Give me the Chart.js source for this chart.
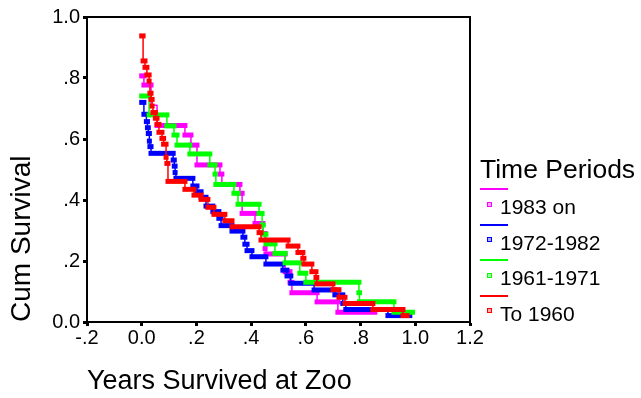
<!DOCTYPE html>
<html><head><meta charset="utf-8">
<script src="https://cdn.jsdelivr.net/npm/chart.js@4.4.0/dist/chart.umd.min.js"></script>
<style>
html,body{margin:0;padding:0;background:#fff;}
#wrap{position:relative;width:641px;height:398px;font-family:"Liberation Sans",Arial,sans-serif;color:#000;overflow:hidden;}
canvas{position:absolute;left:0;top:0;}
.lg{position:absolute;white-space:nowrap;}
</style></head><body>
<div id="wrap"><canvas id="c" width="641" height="398"></canvas><div id="legend"></div></div>
<script>
// ---- data ----
const seriesNames  = ["1983 on", "1972-1982", "1961-1971", "To 1960"];
const seriesColors = ["#ff00ff", "#0000ff", "#00ff00", "#ff0000"];
const legendTitle  = "Time Periods";

// event times (years) and cumulative survival after each step
const magentaTimes = [0, 0.008, 0.034, 0.056, 0.158, 0.180, 0.202, 0.286, 0.293, 0.359, 0.367, 0.414, 0.443, 0.451, 0.454, 0.524, 0.542, 0.549, 0.641, 0.717];
const magentaSurv  = [0.807, 0.777, 0.711, 0.644, 0.613, 0.58, 0.515, 0.485, 0.451, 0.422, 0.356, 0.323, 0.29, 0.241, 0.223, 0.165, 0.13, 0.096, 0.066, 0.032];
const magentaEnd   = 0.852;
const magentaUncensored = [0.711];   // levels with no censored cases (plain line)

const blueTimes = [0, 0.008, 0.017, 0.021, 0.024, 0.028, 0.030, 0.034, 0.115, 0.119, 0.122, 0.125, 0.187, 0.202, 0.217, 0.235, 0.260, 0.282, 0.290, 0.330, 0.370, 0.377, 0.385, 0.403, 0.454, 0.516, 0.531, 0.545, 0.630, 0.706, 0.735, 0.746, 0.900];
const blueSurv  = [0.72, 0.681, 0.657, 0.637, 0.618, 0.593, 0.575, 0.553, 0.531, 0.511, 0.49, 0.471, 0.446, 0.427, 0.409, 0.38, 0.362, 0.34, 0.316, 0.298, 0.278, 0.255, 0.234, 0.214, 0.19, 0.17, 0.151, 0.127, 0.105, 0.089, 0.061, 0.041, 0.021];
const blueEnd   = 0.980;
const blueUncensored = [];

const greenTimes = [0, 0.027, 0.092, 0.118, 0.129, 0.176, 0.249, 0.268, 0.271, 0.337, 0.352, 0.429, 0.440, 0.444, 0.454, 0.487, 0.524, 0.578, 0.600, 0.794, 0.796, 0.922];
const greenSurv  = [0.741, 0.679, 0.643, 0.613, 0.58, 0.551, 0.515, 0.485, 0.451, 0.422, 0.386, 0.356, 0.318, 0.288, 0.256, 0.225, 0.194, 0.16, 0.13, 0.096, 0.066, 0.032];
const greenEnd   = 0.990;
const greenUncensored = [];

const redTimes = [0, 0.005, 0.012, 0.019, 0.027, 0.030, 0.034, 0.038, 0.041, 0.050, 0.056, 0.063, 0.074, 0.080, 0.089, 0.092, 0.096, 0.158, 0.191, 0.217, 0.242, 0.264, 0.304, 0.330, 0.429, 0.436, 0.535, 0.571, 0.589, 0.593, 0.622, 0.637, 0.640, 0.699, 0.721, 0.743, 0.845, 0.955];
const redSurv  = [0.938, 0.856, 0.835, 0.81, 0.79, 0.75, 0.73, 0.708, 0.687, 0.668, 0.648, 0.622, 0.602, 0.583, 0.54, 0.52, 0.461, 0.435, 0.416, 0.402, 0.376, 0.353, 0.332, 0.312, 0.293, 0.269, 0.249, 0.228, 0.209, 0.19, 0.165, 0.146, 0.125, 0.106, 0.081, 0.061, 0.041, 0.021];
const redEnd   = 0.970;
const redUncensored = [];

const xTickValues = [-0.2, 0, 0.2, 0.4, 0.6, 0.8, 1.0, 1.2];
const xTickLabels = ["-.2", "0.0", ".2", ".4", ".6", ".8", "1.0", "1.2"];
const yTickValues = [0, 0.2, 0.4, 0.6, 0.8, 1.0];
const yTickLabels = ["0.0", ".2", ".4", ".6", ".8", "1.0"];
const xTitle = "Years Survived at Zoo";
const yTitle = "Cum Survival";

// ---- build step curves ----
function kmPoints(times, surv, end) {
  const pts = [{x: times[0], y: surv[0]}];
  for (let i = 1; i < times.length; i++) {
    pts.push({x: times[i], y: surv[i - 1]});
    pts.push({x: times[i], y: surv[i]});
  }
  pts.push({x: end, y: surv[surv.length - 1]});
  return pts;
}
const curves = [
  kmPoints(magentaTimes, magentaSurv, magentaEnd),
  kmPoints(blueTimes, blueSurv, blueEnd),
  kmPoints(greenTimes, greenSurv, greenEnd),
  kmPoints(redTimes, redSurv, redEnd)
];
const plainLevels = [magentaUncensored, blueUncensored, greenUncensored, redUncensored];

const datasets = [3, 2, 1, 0].map(i => {
  const thick = ctx => ctx.p0.parsed.y === ctx.p1.parsed.y && !plainLevels[i].includes(ctx.p0.parsed.y);
  return {
    label: seriesNames[i],
    data: curves[i],
    showLine: true,
    borderColor: seriesColors[i],
    backgroundColor: seriesColors[i],
    borderWidth: 1.5,
    pointRadius: 0,
    segment: {
      borderWidth: ctx => thick(ctx) ? 5 : 1.5,
      borderCapStyle: ctx => thick(ctx) ? 'square' : 'butt'
    }
  };
});

const FAM = '"Liberation Sans", Arial, sans-serif';
const frame = {
  id: 'frame',
  afterDraw(chart) {
    const {ctx, chartArea: a} = chart;
    ctx.save();
    ctx.strokeStyle = '#000';
    ctx.lineWidth = 2;
    ctx.beginPath();
    ctx.moveTo(a.left, a.top);
    ctx.lineTo(a.right, a.top);
    ctx.lineTo(a.right, a.bottom);
    ctx.stroke();
    ctx.restore();
  }
};

new Chart(document.getElementById('c'), {
  type: 'scatter',
  data: {datasets},
  options: {
    responsive: false,
    animation: false,
    devicePixelRatio: 1,
    layout: {padding: {top: 17, right: 171, left: 0, bottom: 0}},
    plugins: {legend: {display: false}, tooltip: {enabled: false}},
    scales: {
      x: {
        type: 'linear', min: -0.2, max: 1.2,
        afterBuildTicks: s => { s.ticks = xTickValues.map(v => ({value: v})); },
        afterFit: s => { s.height = 76; },
        ticks: {callback: (v, i) => xTickLabels[i], font: {size: 20, family: FAM}, color: '#000', padding: 0, maxRotation: 0, autoSkip: false},
        grid: {drawOnChartArea: false, drawTicks: true, tickLength: 4, tickWidth: 3, tickColor: '#000'},
        border: {display: true, color: '#000', width: 2},
        title: {display: true, text: xTitle, align: 'start', font: {size: 27, family: FAM}, color: '#000', padding: {top: 0, bottom: 0}}
      },
      y: {
        type: 'linear', min: 0, max: 1,
        afterBuildTicks: s => { s.ticks = yTickValues.map(v => ({value: v})); },
        afterFit: s => { s.width = 87; },
        ticks: {callback: (v, i) => yTickLabels[i], font: {size: 20, family: FAM}, color: '#000', padding: 3, autoSkip: false},
        grid: {drawOnChartArea: false, drawTicks: true, tickLength: 4, tickWidth: 3, tickColor: '#000'},
        border: {display: true, color: '#000', width: 2},
        title: {display: true, text: yTitle, align: 'start', font: {size: 28, family: FAM}, color: '#000', padding: {top: 5, bottom: 0}}
      }
    }
  },
  plugins: [frame]
});

// ---- legend (HTML text) ----
const lg = document.getElementById('legend');
function add(text, style) {
  const d = document.createElement('div');
  d.className = 'lg';
  d.style.cssText = style;
  d.textContent = text;
  lg.appendChild(d);
  return d;
}
add(legendTitle, 'left:480px;top:155.5px;font-size:26.5px;line-height:26.5px;');
seriesNames.forEach((name, i) => {
  const c = seriesColors[i];
  const step = 35.5;
  add('', `left:480px;top:${188.3 + i * step}px;width:28px;height:2px;background:${c};`);
  add('', `left:486.5px;top:${201.5 + i * step}px;width:3px;height:3px;border:1px solid ${c};background:${c}55;`);
  add(name, `left:500px;top:${196.2 + i * step}px;font-size:21px;line-height:21px;`);
});
</script>
</body></html>
